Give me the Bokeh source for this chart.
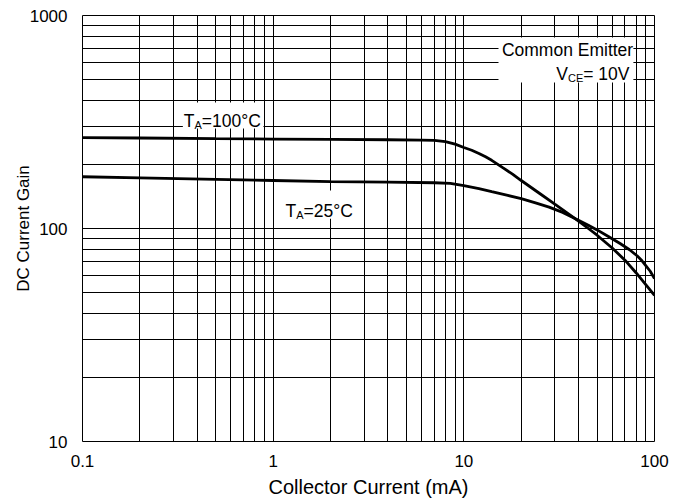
from bokeh.plotting import figure
from bokeh.models import FixedTicker, Label, BoxAnnotation
from bokeh.embed import file_html
from bokeh.resources import INLINE

# ---- data ----
ic_100 = [0.1, 0.2, 0.5, 1, 2, 4, 6, 7, 8, 9, 10, 11, 12, 13, 14, 16, 18, 20, 25, 30, 38.5, 45, 50, 60, 70, 80, 90, 100]
hfe_100 = [267, 266, 264, 263, 262, 261, 260, 259, 256, 249, 240, 233, 225, 217, 209, 193, 180, 168, 146, 130, 111, 100, 93, 81, 71, 62, 54.5, 48.5]

ic_25 = [0.1, 0.2, 0.5, 1, 2, 4, 7, 8.5, 10, 12, 14, 17, 20, 24, 28, 33, 38.5, 45, 50, 57, 66, 74, 81, 86, 90, 95, 100]
hfe_25 = [175, 173, 170, 168, 166, 165, 164, 163, 159, 154, 149, 143, 138, 131.5, 126, 119, 111, 103.5, 98.5, 92, 85, 79.5, 74.5, 70.5, 67, 63, 58.2]

x_ticks = [0.1, 1, 10, 100]
x_tick_labels = ["0.1", "1", "10", "100"]
y_ticks = [10, 100, 1000]
y_tick_labels = ["10", "100", "1000"]

FONT = "Liberation Sans"

p = figure(width=686, height=502, x_axis_type="log", y_axis_type="log",
           x_range=(0.1, 100), y_range=(10, 1000),
           output_backend="svg", toolbar_location=None,
           min_border_left=82, min_border_right=32, min_border_top=15, min_border_bottom=61,
           x_axis_label="Collector Current (mA)", y_axis_label="DC Current Gain")

# grid at every 1..9 per decade
def decade_grid(lo_exp, hi_exp):
    t = []
    for e in range(lo_exp, hi_exp):
        for m in range(1, 10):
            t.append(m * 10.0 ** e)
    t.append(10.0 ** hi_exp)
    return t

p.xgrid.ticker = FixedTicker(ticks=decade_grid(-1, 2))
p.ygrid.ticker = FixedTicker(ticks=decade_grid(1, 3))
for g in (p.xgrid, p.ygrid):
    g.grid_line_color = "black"
    g.grid_line_alpha = 1.0
    g.grid_line_width = 1

p.outline_line_color = "black"
p.outline_line_width = 1
p.outline_line_alpha = 1.0

p.xaxis.ticker = FixedTicker(ticks=x_ticks)
p.yaxis.ticker = FixedTicker(ticks=y_ticks)
p.xaxis.major_label_overrides = {t: l for t, l in zip(x_ticks, x_tick_labels)}
p.yaxis.major_label_overrides = {t: l for t, l in zip(y_ticks, y_tick_labels)}

for ax in (p.xaxis, p.yaxis):
    ax.axis_line_color = None
    ax.major_tick_line_color = None
    ax.minor_tick_line_color = None
    ax.major_label_text_font = FONT
    ax.major_label_text_font_size = "17px"
    ax.major_label_text_color = "black"
    ax.axis_label_text_font = FONT
    ax.axis_label_text_font_style = "normal"
    ax.axis_label_text_color = "black"

p.xaxis.axis_label_text_font_size = "20px"
p.yaxis.axis_label_text_font_size = "17px"
p.xaxis.major_label_standoff = 7
p.xaxis.axis_label_standoff = 6
p.yaxis.major_label_standoff = 9
p.yaxis.axis_label_standoff = -6

# curves
p.line(ic_100, hfe_100, line_color="black", line_width=2.8)
p.line(ic_25, hfe_25, line_color="black", line_width=2.8)

# white label backgrounds
for l, r, b, t in [(0.336, 0.889, 295, 390), (1.04, 2.87, 111, 151), (15.2, 77.5, 485, 788)]:
    p.add_layout(BoxAnnotation(left=l, right=r, bottom=b, top=t, fill_color="white",
                               fill_alpha=1.0, line_color=None, level="annotation"))

FS = 17.5
SUB = 11

def lbl(x, y, text, size, xo=0, yo=0, align="left"):
    p.add_layout(Label(x=x, y=y, text=text, x_offset=xo, y_offset=yo,
                       text_font=FONT, text_font_size=f"{size}px", text_color="black",
                       text_align=align, text_baseline="alphabetic"))

# T_A = 100°C
lbl(0.340, 318, "T", FS)
lbl(0.340, 318, "A", SUB, xo=0.611 * FS, yo=-4)
lbl(0.340, 318, "=100°C", FS, xo=0.611 * FS + 0.667 * SUB)

# T_A = 25°C
lbl(1.16, 120.5, "T", FS)
lbl(1.16, 120.5, "A", SUB, xo=0.611 * FS, yo=-4)
lbl(1.16, 120.5, "=25°C", FS, xo=0.611 * FS + 0.667 * SUB)

# Common Emitter / V_CE = 10V
lbl(77.3, 685, "Common Emitter", FS, align="right")
lbl(73.9, 532, "= 10V", FS, align="right")
lbl(73.9, 532, "CE", SUB, xo=-2.641 * FS, yo=-4, align="right")
lbl(73.9, 532, "V", FS, xo=-2.641 * FS - 1.389 * SUB, align="right")

open("out.html", "w").write(file_html(p, INLINE))
